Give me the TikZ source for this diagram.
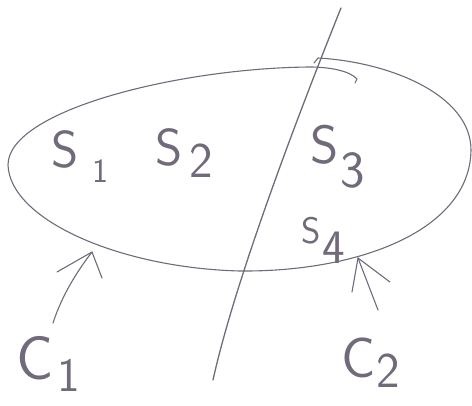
\documentclass[tikz,border=0pt]{standalone}
\usepackage{fontspec}
\definecolor{pencil}{RGB}{112,106,122}
\newcommand\hlbl[6]{\fontsize{#2}{#2}\selectfont #1\kern#4\raisebox{#5}{\fontsize{#6}{#6}\selectfont #3}}
\begin{document}
\begin{tikzpicture}[x=1pt,y=-1pt,
  stroke/.style={draw=pencil,line width=1.1pt,line cap=round,line join=round},
  lbl/.style={text=pencil,font=\sffamily,inner sep=0pt,anchor=base west}]
\useasboundingbox (0,0) rectangle (472,405);
% closed curve (ellipse-like)
\draw[stroke] (355,83) -- (357,79) .. controls (350,71) and (330,67) .. (310,67)
  .. controls (180,68) and (8,110) .. (8,165)
  .. controls (10,220) and (120,268) .. (240,271)
  .. controls (360,272) and (470,230) .. (471,150)
  .. controls (471,95) and (390,62) .. (318,58) -- (314,63);
% dividing line
\draw[stroke,line width=1.3pt] (341,8) .. controls (300,110) and (235,280) .. (213,380);
% labels
\node[lbl] (s1) at (51,167) {\hlbl{S}{52}{1}{14pt}{-15pt}{34}};
\node[lbl] (s2) at (155,165) {\hlbl{S}{52}{2}{7pt}{-12pt}{50}};
\node[lbl] (s3) at (310,163) {\hlbl{S}{54}{3}{2pt}{-24pt}{52}};
\node[lbl] (s4) at (301,243) {\hlbl{S}{37}{4}{2pt}{-20pt}{48}};
\node[lbl] (c1) at (16,379) {\hlbl{C}{62}{1}{4pt}{-12pt}{48}};
\node[lbl] (c2) at (341,377) {\hlbl{C}{57}{2}{1pt}{-10pt}{50}};
% arrows
\coordinate (t1) at (92,252);
\coordinate (t2) at (358,258);
\coordinate (a1) at (53,323);
\coordinate (a2) at (378,310);
\draw[stroke] (a1) .. controls (62,295) and (78,270) .. (t1);
\draw[stroke] (57,272) -- (t1) -- (102,278);
\draw[stroke] (a2) -- (t2);
\draw[stroke] (352,292) -- (t2) -- (390,282);
\end{tikzpicture}
\end{document}
